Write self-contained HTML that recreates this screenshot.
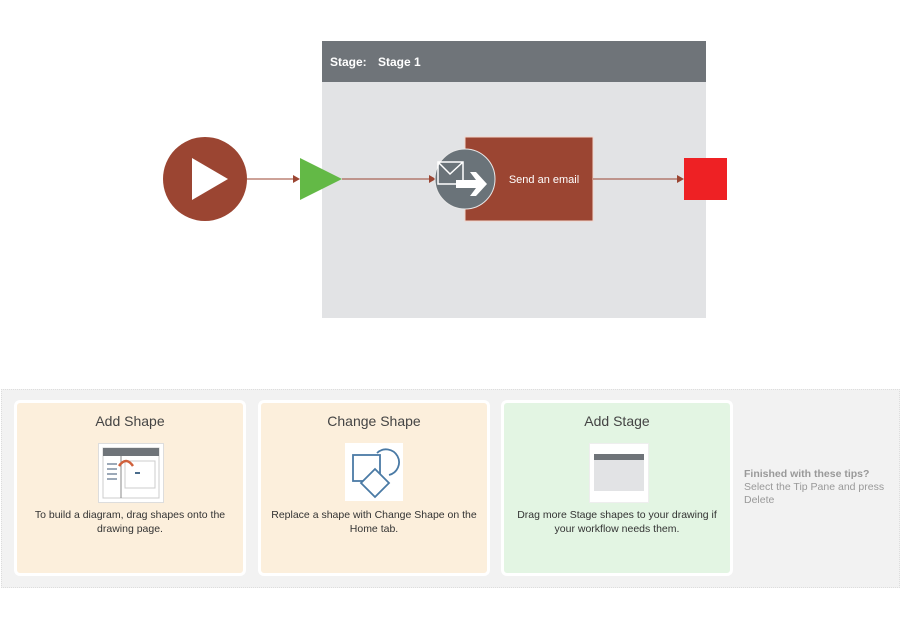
<!DOCTYPE html>
<html><head><meta charset="utf-8"><style>
body{margin:0;width:900px;height:626px;background:#fff;position:relative;overflow:hidden;font-family:"Liberation Sans",sans-serif}
.a{position:absolute}
.card{position:absolute;top:400px;width:226px;height:170px;border:3px solid #fff;border-radius:6px;box-sizing:content-box}
.card h3{margin:0;position:absolute;top:10px;width:100%;text-align:center;font-weight:normal;font-size:14px;color:#444}
.card p{margin:0;position:absolute;top:105px;left:4px;right:4px;text-align:center;font-size:10.5px;color:#333;line-height:14px}
.ic{position:absolute;top:40px;width:64px;height:58px;background:#fff;border:1px solid #ddd;left:81px}
</style></head><body>
<svg class="a" style="left:0;top:0" width="900" height="340">
<rect x="322" y="41" width="384" height="277" fill="#e2e3e5"/>
<rect x="322" y="41" width="384" height="41" fill="#6f7479"/>
<text x="330" y="66" font-size="12" font-weight="bold" fill="#fff" font-family="Liberation Sans">Stage:</text>
<text x="378" y="66" font-size="12" font-weight="bold" fill="#fff" font-family="Liberation Sans">Stage 1</text>
<circle cx="205" cy="179" r="42" fill="#9b4532"/>
<polygon points="192,158 192,200 228,179" fill="#fff"/>
<line x1="247" y1="179" x2="294" y2="179" stroke="#9b4532" stroke-width="1"/>
<polygon points="300,179 293,175 293,183" fill="#9b4532"/>
<polygon points="300,158 300,200 342,179" fill="#63b946"/>
<line x1="342" y1="179" x2="430" y2="179" stroke="#9b4532" stroke-width="1"/>
<polygon points="436,179 429,175 429,183" fill="#9b4532"/>
<rect x="465" y="137" width="128" height="84" fill="#9b4532" stroke="#f2d6cc" stroke-width="1"/>
<text x="544" y="183" font-size="11" fill="#fff" text-anchor="middle" font-family="Liberation Sans">Send an email</text>
<circle cx="465" cy="179" r="30" fill="#6a7379" stroke="#e8e8e8" stroke-width="1"/>
<path d="M438,162 L463,162 L463,184 L438,184 Z M438,162 L450,174 L463,162" fill="none" stroke="#fff" stroke-width="1.5"/>
<path d="M456,180 L476,180 L470,172 L476,172 L487,184 L476,196 L470,196 L476,188 L456,188 Z" fill="#fff"/>
<line x1="593" y1="179" x2="678" y2="179" stroke="#9b4532" stroke-width="1"/>
<polygon points="684,179 677,175 677,183" fill="#9b4532"/>
<rect x="684" y="158" width="43" height="42" fill="#ee2124"/>
</svg>
<div class="a" style="left:1px;top:389px;width:897px;height:197px;background:#f2f2f2;border:1px dotted #ddd"></div>
<div class="card" style="left:14px;background:#fcefdc">
<h3>Add Shape</h3>
<div class="ic"><svg width="64" height="58"><rect x="4" y="4" width="56" height="50" fill="#fff" stroke="#ccc"/><rect x="4" y="4" width="56" height="8" fill="#6f7479"/><line x1="22" y1="12" x2="22" y2="54" stroke="#888"/><rect x="26" y="17" width="30" height="27" fill="none" stroke="#ccc"/><g stroke="#7a8ca0" stroke-width="1.5"><line x1="8" y1="20" x2="18" y2="20"/><line x1="8" y1="25" x2="18" y2="25"/><line x1="8" y1="30" x2="18" y2="30"/><line x1="8" y1="35" x2="18" y2="35"/></g><path d="M20,22 Q27,12 34,22" fill="none" stroke="#d0613c" stroke-width="2.5"/><rect x="36" y="28" width="5" height="2" fill="#4a6c8c"/></svg></div>
<p>To build a diagram, drag shapes onto the drawing page.</p></div>
<div class="card" style="left:258px;background:#fcefdc">
<h3>Change Shape</h3>
<div class="ic" style="left:84px;width:58px;border:none"><svg width="58" height="58"><g fill="none" stroke="#4a7aa5" stroke-width="1.8"><rect x="8" y="12" width="27" height="26"/><path d="M32,10 A13,13 0 1 1 44,32"/><polygon points="30,26 44,40 30,54 16,40" fill="#fff"/></g></svg></div>
<p>Replace a shape with Change Shape on the Home tab.</p></div>
<div class="card" style="left:501px;background:#e3f5e3">
<h3>Add Stage</h3>
<div class="ic" style="left:85px;width:58px;border:1px solid #eee"><svg width="58" height="58"><rect x="4" y="10" width="50" height="37" fill="#e2e3e5"/><rect x="4" y="10" width="50" height="6" fill="#6f7479"/></svg></div>
<p>Drag more Stage shapes to your drawing if your workflow needs them.</p></div>
<div class="a" style="left:744px;top:468px;font-size:10.5px;color:#999;line-height:13px"><b>Finished with these tips?</b><br>Select the Tip Pane and press<br>Delete</div>
</body></html>
